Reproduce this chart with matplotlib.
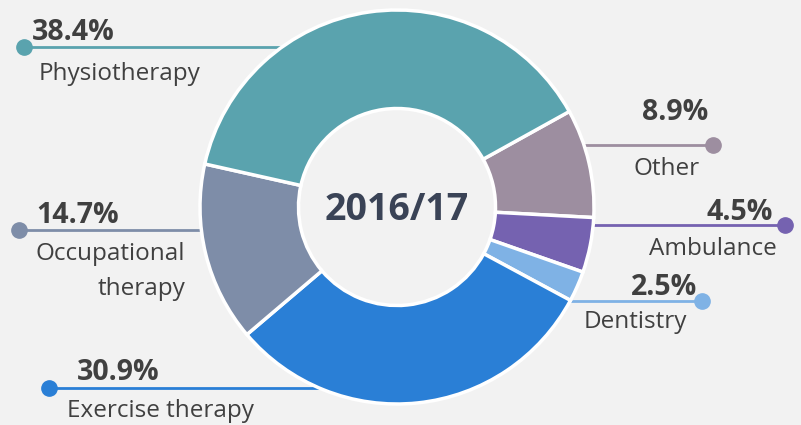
import numpy as np
import matplotlib
matplotlib.use("Agg")
from matplotlib import pyplot as plt

# Share of spend by service, 2016/17 (clockwise from the right)
categories = ["Other", "Ambulance", "Dentistry", "Exercise therapy",
              "Occupational\ntherapy", "Physiotherapy"]
shares = [8.9, 4.5, 2.5, 30.9, 14.7, 38.4]
colours = ["#9d8ea0", "#7562b0", "#7fb2e5", "#2a7fd6", "#7e8da8", "#5aa3ae"]
centre_label = "2016/17"

# label layout in pixel coords (image y from top):
# dot x, line y, side, (pct x, pct baseline), (name x, name baseline)
label_layout = [
    (713, 145, "right", (708, 120), (700, 175)),
    (785, 225, "right", (773, 220), (777, 255)),
    (702, 301, "right", (697, 295), (687, 328)),
    (49, 388, "left", (77, 380), (67, 417)),
    (19, 230, "left", (36, 223), (185, 260)),
    (24, 47, "left", (32, 40), (39, 80)),
]

W, H = 801, 425
BG = "#f2f2f2"
TXT = "#404040"
plt.rcParams["font.family"] = ["Open Sans", "DejaVu Sans"]

fig = plt.figure(figsize=(W / 100, H / 100), dpi=100, facecolor=BG)
ax = fig.add_axes([0, 0, 1, 1])
ax.set_facecolor(BG)

cx, cy, R = 397, H - 207, 197
ax.pie(shares, colors=colours, startangle=29, counterclock=False,
       radius=R, center=(cx, cy),
       wedgeprops=dict(width=R * 0.5, edgecolor="white", linewidth=2.5))
ax.set_xlim(0, W)
ax.set_ylim(0, H)
ax.set_aspect("equal")
ax.axis("off")

ax.text(cx, cy - 3, centre_label, ha="center", va="center",
        fontsize=27, fontweight="bold", color="#3a4356")

for cat, val, col, (dx, ly, side, pct_at, name_at) in zip(
        categories, shares, colours, label_layout):
    y = H - ly
    reach = np.sqrt(max(R ** 2 - (y - cy) ** 2, 0))
    edge_x = cx + reach if side == "right" else cx - reach
    ax.plot([dx, edge_x], [y, y], color=col, lw=2, zorder=0.5,
            solid_capstyle="butt")
    ax.plot(dx, y, "o", color=col, ms=11, zorder=3)

    ax.text(pct_at[0], H - pct_at[1], f"{val}%", ha=side if side == "right" else "left",
            va="baseline", fontsize=20.5, fontweight="bold", color=TXT)

    lines = cat.split("\n")
    if len(lines) > 1:
        # stacked name, right-aligned under the percentage
        for i, part in enumerate(lines):
            ax.text(name_at[0], H - name_at[1] - 35 * i, part, ha="right",
                    va="baseline", fontsize=17.5, color=TXT)
    else:
        ax.text(name_at[0], H - name_at[1], cat,
                ha=side if side == "right" else "left",
                va="baseline", fontsize=17.5, color=TXT)

fig.savefig("out.png", dpi=100, facecolor=BG)
